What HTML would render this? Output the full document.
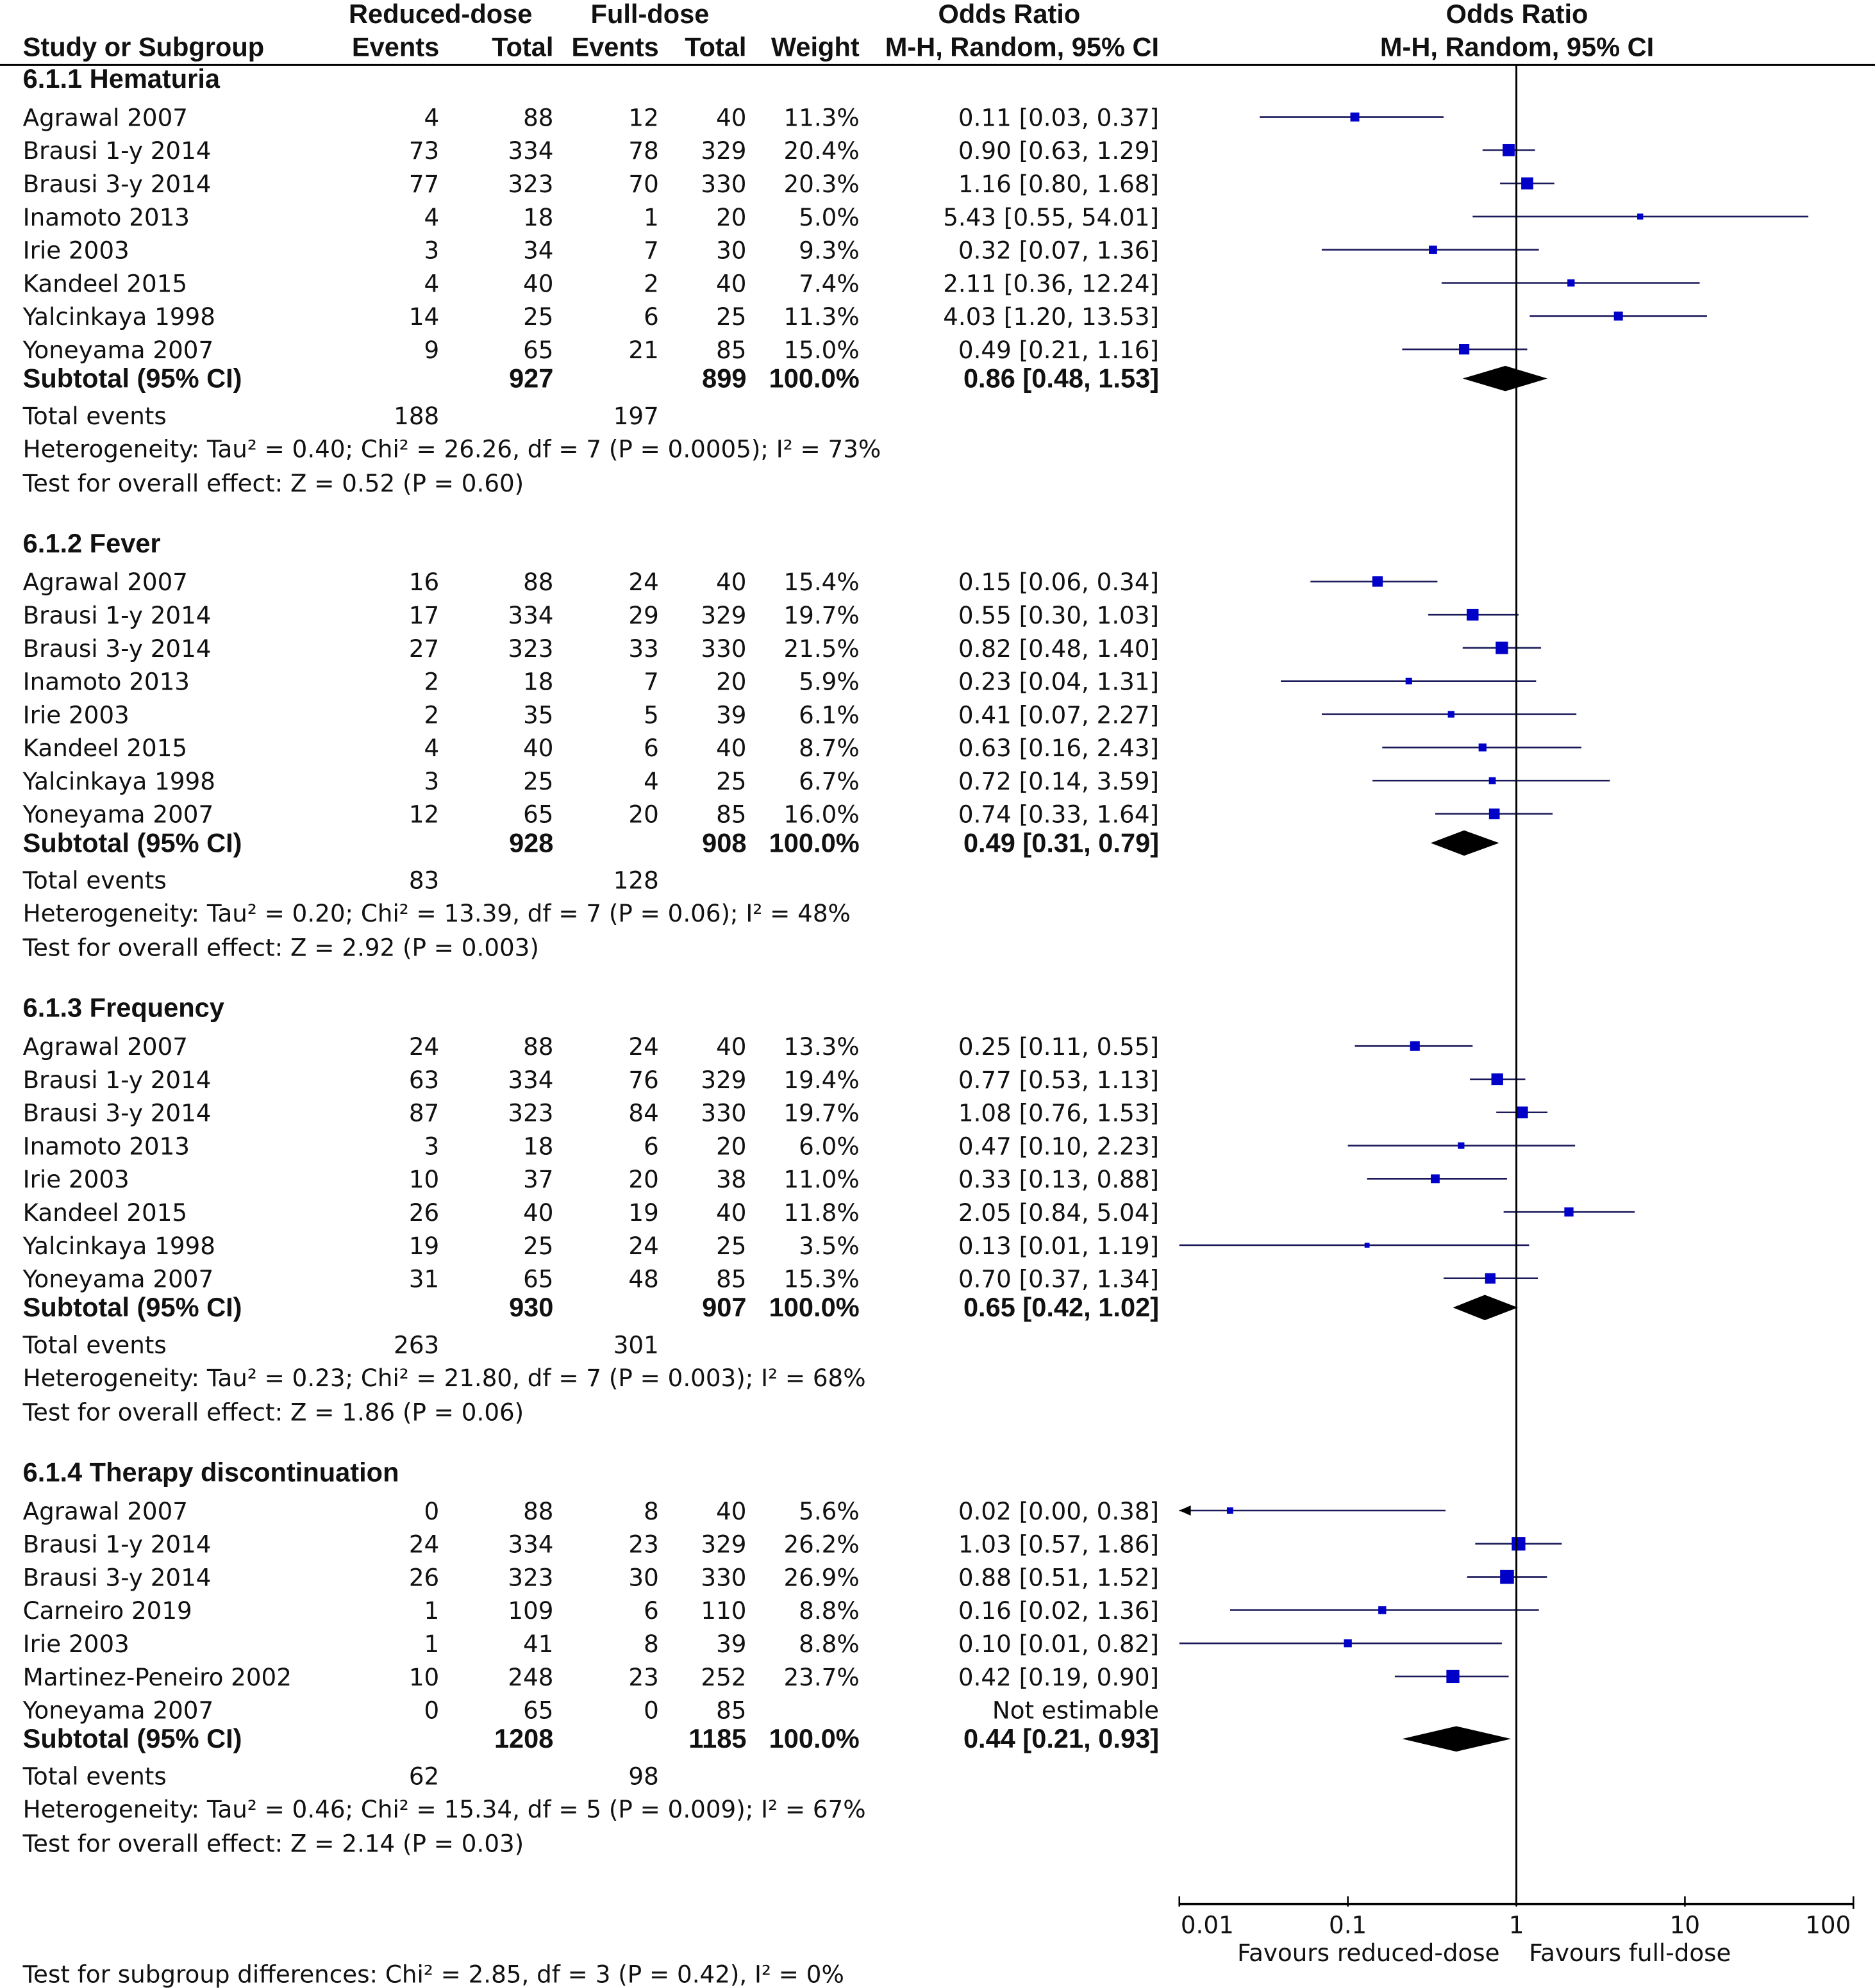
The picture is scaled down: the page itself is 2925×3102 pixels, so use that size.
<!DOCTYPE html>
<html><head><meta charset="utf-8"><style>
html,body{margin:0;padding:0;background:#fff}
svg{display:block}
text{font-family:"DejaVu Sans","Liberation Sans",sans-serif;font-size:18.8px;fill:#111}
.b{font-family:"Liberation Sans","DejaVu Sans",sans-serif;font-weight:bold;font-size:21px}
</style></head><body>
<svg id="plot" width="2925" height="3102" viewBox="0 0 1477 1566" xmlns="http://www.w3.org/2000/svg">
<g>
<text x="347" y="18" text-anchor="middle" class="b">Reduced-dose</text>
<text x="512" y="18" text-anchor="middle" class="b">Full-dose</text>
<text x="795" y="18" text-anchor="middle" class="b">Odds Ratio</text>
<text x="1195" y="18" text-anchor="middle" class="b">Odds Ratio</text>
<text x="18" y="44" class="b">Study or Subgroup</text>
<text x="346" y="44" text-anchor="end" class="b">Events</text>
<text x="436" y="44" text-anchor="end" class="b">Total</text>
<text x="519" y="44" text-anchor="end" class="b">Events</text>
<text x="588" y="44" text-anchor="end" class="b">Total</text>
<text x="677" y="44" text-anchor="end" class="b">Weight</text>
<text x="913" y="44" text-anchor="end" class="b">M-H, Random, 95% CI</text>
<text x="1195" y="44" text-anchor="middle" class="b">M-H, Random, 95% CI</text>
<line x1="0" y1="51" x2="1477" y2="51" stroke="#000" stroke-width="1.5"/>
</g>
<g id="rows"></g>
<g id="axis"></g>
<text x="18" y="1562">Test for subgroup differences: Chi² = 2.85, df = 3 (P = 0.42), I² = 0%</text>
</svg>
<script>
const groupTitles=["6.1.1 Hematuria","6.1.2 Fever","6.1.3 Frequency","6.1.4 Therapy discontinuation"];
const studies=[
["Agrawal 2007","Brausi 1-y 2014","Brausi 3-y 2014","Inamoto 2013","Irie 2003","Kandeel 2015","Yalcinkaya 1998","Yoneyama 2007"],
["Agrawal 2007","Brausi 1-y 2014","Brausi 3-y 2014","Inamoto 2013","Irie 2003","Kandeel 2015","Yalcinkaya 1998","Yoneyama 2007"],
["Agrawal 2007","Brausi 1-y 2014","Brausi 3-y 2014","Inamoto 2013","Irie 2003","Kandeel 2015","Yalcinkaya 1998","Yoneyama 2007"],
["Agrawal 2007","Brausi 1-y 2014","Brausi 3-y 2014","Carneiro 2019","Irie 2003","Martinez-Peneiro 2002","Yoneyama 2007"]];
const evR=[[4,73,77,4,3,4,14,9],[16,17,27,2,2,4,3,12],[24,63,87,3,10,26,19,31],[0,24,26,1,1,10,0]];
const totR=[[88,334,323,18,34,40,25,65],[88,334,323,18,35,40,25,65],[88,334,323,18,37,40,25,65],[88,334,323,109,41,248,65]];
const evF=[[12,78,70,1,7,2,6,21],[24,29,33,7,5,6,4,20],[24,76,84,6,20,19,24,48],[8,23,30,6,8,23,0]];
const totF=[[40,329,330,20,30,40,25,85],[40,329,330,20,39,40,25,85],[40,329,330,20,38,40,25,85],[40,329,330,110,39,252,85]];
const weight=[[11.3,20.4,20.3,5.0,9.3,7.4,11.3,15.0],[15.4,19.7,21.5,5.9,6.1,8.7,6.7,16.0],[13.3,19.4,19.7,6.0,11.0,11.8,3.5,15.3],[5.6,26.2,26.9,8.8,8.8,23.7,null]];
const orv=[[0.11,0.90,1.16,5.43,0.32,2.11,4.03,0.49],[0.15,0.55,0.82,0.23,0.41,0.63,0.72,0.74],[0.25,0.77,1.08,0.47,0.33,2.05,0.13,0.70],[0.02,1.03,0.88,0.16,0.10,0.42,null]];
const lo=[[0.03,0.63,0.80,0.55,0.07,0.36,1.20,0.21],[0.06,0.30,0.48,0.04,0.07,0.16,0.14,0.33],[0.11,0.53,0.76,0.10,0.13,0.84,0.01,0.37],[0.00,0.57,0.51,0.02,0.01,0.19,null]];
const hi=[[0.37,1.29,1.68,54.01,1.36,12.24,13.53,1.16],[0.34,1.03,1.40,1.31,2.27,2.43,3.59,1.64],[0.55,1.13,1.53,2.23,0.88,5.04,1.19,1.34],[0.38,1.86,1.52,1.36,0.82,0.90,null]];
const subTotR=[927,928,930,1208];
const subTotF=[899,908,907,1185];
const subOR=[0.86,0.49,0.65,0.44];
const subLo=[0.48,0.31,0.42,0.21];
const subHi=[1.53,0.79,1.02,0.93];
const totEvR=[188,83,263,62];
const totEvF=[197,128,301,98];
const hetText=["Heterogeneity: Tau² = 0.40; Chi² = 26.26, df = 7 (P = 0.0005); I² = 73%","Heterogeneity: Tau² = 0.20; Chi² = 13.39, df = 7 (P = 0.06); I² = 48%","Heterogeneity: Tau² = 0.23; Chi² = 21.80, df = 7 (P = 0.003); I² = 68%","Heterogeneity: Tau² = 0.46; Chi² = 15.34, df = 5 (P = 0.009); I² = 67%"];
const effText=["Test for overall effect: Z = 0.52 (P = 0.60)","Test for overall effect: Z = 2.92 (P = 0.003)","Test for overall effect: Z = 1.86 (P = 0.06)","Test for overall effect: Z = 2.14 (P = 0.03)"];
const ticks=[0.01,0.1,1,10,100];
const tickLabels=["0.01","0.1","1","10","100"];

const NS="http://www.w3.org/2000/svg";
const X0=929,X1=1460;
function xs(v){const c=Math.min(Math.max(v,0.01),100);return X0+(Math.log10(c)+2)/4*(X1-X0);}
const rowsG=document.getElementById('rows');
function el(tag,attrs,parent){const e=document.createElementNS(NS,tag);for(const k in attrs)e.setAttribute(k,attrs[k]);(parent||rowsG).appendChild(e);return e;}
function txt(x,y,s,anchor,cls,name,parent){const t=el('text',{x:x,y:y},parent);if(anchor)t.setAttribute('text-anchor',anchor);if(cls)t.setAttribute('class',cls);t.textContent=s;


return t;}
const f2=v=>v.toFixed(2);
const ROW=26.15;
groupTitles.forEach((title,g)=>{
  const base=62+366*g;
  const grp=el('g',{});
  
  
  txt(18,base+7,title,null,'b','subgroup-title',grp);
  const n=studies[g].length;
  for(let i=0;i<n;i++){
    const y=base+30+ROW*i;const ty=y+7;
    txt(18,ty,studies[g][i],null,null,'study-name',grp);
    txt(346,ty,String(evR[g][i]),'end',null,'events-reduced',grp);
    txt(436,ty,String(totR[g][i]),'end',null,'total-reduced',grp);
    txt(519,ty,String(evF[g][i]),'end',null,'events-full',grp);
    txt(588,ty,String(totF[g][i]),'end',null,'total-full',grp);
    if(orv[g][i]==null){txt(913,ty,'Not estimable','end',null,'odds-ratio-ci',grp);continue;}
    txt(677,ty,weight[g][i].toFixed(1)+'%','end',null,'weight',grp);
    txt(913,ty,f2(orv[g][i])+' ['+f2(lo[g][i])+', '+f2(hi[g][i])+']','end',null,'odds-ratio-ci',grp);
    const ln=el('line',{x1:xs(lo[g][i]),x2:xs(hi[g][i]),y1:y,y2:y,stroke:'#1a1a5a','stroke-width':1.3},grp);
    
    
    if(lo[g][i]<0.01){const a=el('path',{d:`M${X0},${y} l9,-4 l0,8 z`,fill:'#000'},grp);
      
      }
    const s=2.1*Math.sqrt(weight[g][i]);
    const sq=el('rect',{x:xs(orv[g][i])-s/2,y:y-s/2,width:s,height:s,fill:'#0000c8'},grp);
    
    
  }
  const sy=base+30+ROW*(n-1)+23;
  txt(18,sy+7,'Subtotal (95% CI)',null,'b','subtotal-label',grp);
  txt(436,sy+7,String(subTotR[g]),'end','b','subtotal-reduced',grp);
  txt(588,sy+7,String(subTotF[g]),'end','b','subtotal-full',grp);
  txt(677,sy+7,'100.0%','end','b','subtotal-weight',grp);
  txt(913,sy+7,f2(subOR[g])+' ['+f2(subLo[g])+', '+f2(subHi[g])+']','end','b','subtotal-or',grp);
  const d=el('path',{d:`M${xs(subLo[g])},${sy} L${xs(subOR[g])},${sy-10} L${xs(subHi[g])},${sy} L${xs(subOR[g])},${sy+10} Z`,fill:'#000'},grp);
  
  
  txt(18,sy+36,'Total events',null,null,'total-events-label',grp);
  txt(346,sy+36,String(totEvR[g]),'end',null,'total-events-reduced',grp);
  txt(519,sy+36,String(totEvF[g]),'end',null,'total-events-full',grp);
  txt(18,sy+62,hetText[g],null,null,'heterogeneity',grp);
  txt(18,sy+89,effText[g],null,null,'overall-effect',grp);
});
const ax=document.getElementById('axis');
el('line',{x1:xs(1),x2:xs(1),y1:51,y2:1500,stroke:'#000','stroke-width':1.5},ax);
el('line',{x1:X0,x2:X1,y1:1500,y2:1500,stroke:'#000','stroke-width':2},ax);
ticks.forEach((t,i)=>{
  const tk=el('line',{x1:xs(t),x2:xs(t),y1:1494,y2:i==4?1504:1502,stroke:'#000','stroke-width':1.3},ax);
  
  
  const lx=i==0?X0+22:(i==4?X1-20:xs(t));
  txt(lx,1523,tickLabels[i],'middle',null,'x-tick-label',ax);
});
txt(1078,1545,'Favours reduced-dose','middle',null,'favours-reduced-label',ax);
txt(1284,1545,'Favours full-dose','middle',null,'favours-full-label',ax);
</script>
</body></html>
